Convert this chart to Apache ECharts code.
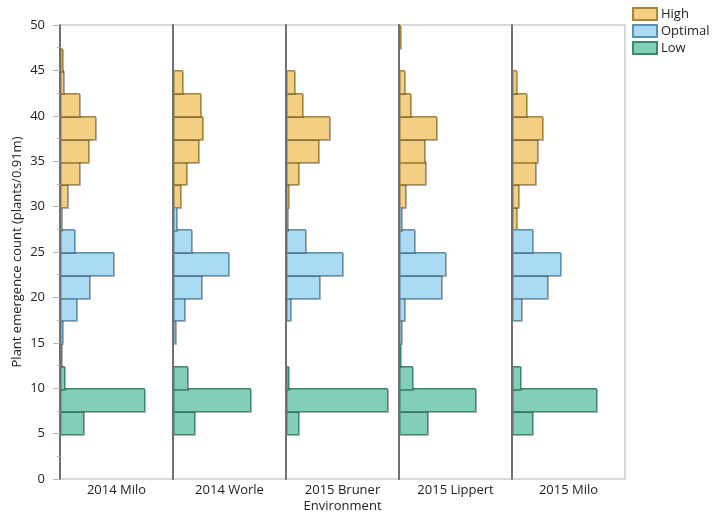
<!DOCTYPE html>
<html>
<head>
<meta charset="utf-8">
<script src="https://cdn.jsdelivr.net/npm/echarts@6/dist/echarts.min.js"></script>
<style>
html,body{margin:0;padding:0;background:#fff;}
#chart{width:713px;height:518px;}
</style>
</head>
<body>
<div id="chart"></div>
<script>
// ---- data ----
const panels = ['2014 Milo', '2014 Worle', '2015 Bruner', '2015 Lippert', '2015 Milo'];
const classes = ['High', 'Optimal', 'Low'];
const binWidth = 2.5;
const lowBins = [5, 7.5, 10, 12.5];
const optimalBins = [15, 17.5, 20, 22.5, 25, 27.5];
const highBins = [27.5, 30, 32.5, 35, 37.5, 40, 42.5, 45, 47.5];

const low2014Milo = [23, 84, 4.3, 0.6];
const low2014Worle = [21.3, 77.3, 14.3, 0];
const low2015Bruner = [12.3, 101.3, 1.7, 0];
const low2015Lippert = [27.7, 75.7, 12.7, 0.8];
const low2015Milo = [19.7, 84, 8.3, 0];

const optimal2014Milo = [2.3, 16, 28.7, 53.3, 13.7, 0.8];
const optimal2014Worle = [2.3, 11.3, 28.3, 55, 17.7, 3.3];
const optimal2015Bruner = [0, 4, 33.3, 56.3, 19, 0.7];
const optimal2015Lippert = [2.3, 5.3, 41.7, 46.3, 14.7, 2];
const optimal2015Milo = [0, 9.3, 35, 47.7, 19.7, 0];

const high2014Milo = [0, 6.7, 19.3, 27.7, 34.7, 19.3, 3.3, 2.3, 0];
const high2014Worle = [0, 7.3, 12.7, 24.7, 29.3, 26.7, 9.3, 0, 0];
const high2015Bruner = [0, 1.7, 12, 32, 42.7, 15.7, 7.7, 0, 0];
const high2015Lippert = [0, 6.3, 26.3, 25, 36.7, 11, 5.3, 0, 0.3];
const high2015Milo = [3.7, 5.7, 23.3, 24.7, 29.7, 13.7, 3.7, 0, 0];

const yTicks = [0, 5, 10, 15, 20, 25, 30, 35, 40, 45, 50];
const xMax = 113;

// ---- chart ----
const lowByPanel = [low2014Milo, low2014Worle, low2015Bruner, low2015Lippert, low2015Milo];
const optByPanel = [optimal2014Milo, optimal2014Worle, optimal2015Bruner, optimal2015Lippert, optimal2015Milo];
const highByPanel = [high2014Milo, high2014Worle, high2015Bruner, high2015Lippert, high2015Milo];

const styles = {
  High: {fill: '#F2CF82', stroke: '#A88838'},
  Optimal: {fill: '#ABDAF3', stroke: '#5A90B2'},
  Low: {fill: '#82CFB9', stroke: '#3C8A6E'}
};
const FONT = 'Open Sans, Noto Sans, sans-serif';
const FS = 13;

const grids = [], xAxes = [], yAxes = [], series = [];
panels.forEach((p, i) => {
  grids.push({left: 60 + i * 113, top: 25, width: 113, height: 454, show: true,
    borderColor: '#b4b4b4', borderWidth: 1, backgroundColor: 'transparent'});
  xAxes.push({gridIndex: i, type: 'value', min: 0, max: xMax,
    axisLine: {show: false}, axisTick: {show: false}, axisLabel: {show: false}, splitLine: {show: false},
    name: p, nameLocation: 'middle', nameGap: 5,
    nameTextStyle: {fontFamily: FONT, fontSize: FS, color: '#222', verticalAlign: 'top'}});
  const first = i === 0;
  yAxes.push({gridIndex: i, type: 'value', min: yTicks[0], max: yTicks[yTicks.length - 1], interval: 5, z: 5,
    axisLine: {show: true, lineStyle: {color: '#707070', width: 2}},
    axisTick: {show: first, length: 7, lineStyle: {color: '#b4b4b4'}},
    minorTick: {show: first, splitNumber: 2, length: 3, lineStyle: {color: '#b4b4b4'}},
    axisLabel: {show: first, margin: 15, fontFamily: FONT, fontSize: FS, color: '#222'},
    splitLine: {show: false},
    name: first ? 'Plant emergence count (plants/0.91m)' : '', nameLocation: 'middle', nameGap: 36,
    nameTextStyle: {fontFamily: FONT, fontSize: FS, color: '#222'}});
  const sets = [['High', highBins, highByPanel[i]], ['Optimal', optimalBins, optByPanel[i]], ['Low', lowBins, lowByPanel[i]]];
  sets.forEach(([name, bins, vals]) => {
    const st = styles[name];
    series.push({
      type: 'custom', name: name, xAxisIndex: i, yAxisIndex: i, z: 2,
      itemStyle: {color: st.fill, borderColor: st.stroke, borderWidth: 1},
      encode: {x: 1, y: 0},
      data: bins.map((b, k) => [b, vals[k]]),
      renderItem: function (params, api) {
        const y0 = api.value(0), len = api.value(1);
        if (!len) return null;
        const a = api.coord([0, y0 + binWidth]);
        const b = api.coord([len, y0]);
        const x = Math.round(a[0]) + 0.5, y = Math.round(a[1]) + 0.5;
        const w = Math.max(Math.round(b[0] - a[0]), 1), h = Math.round(b[1] - a[1]);
        return {type: 'rect', shape: {x: x, y: y, width: w, height: h},
          style: {fill: st.fill, stroke: st.stroke, lineWidth: 1,
            shadowColor: 'rgba(0,0,0,0.22)', shadowOffsetX: 1, shadowOffsetY: 1, shadowBlur: 0}};
      }
    });
  });
});

const chart = echarts.init(document.getElementById('chart'), null, {renderer: 'canvas'});
chart.setOption({
  animation: false,
  backgroundColor: '#fff',
  title: {text: 'Environment', left: 342.5, textAlign: 'center', top: 500, padding: 0,
    textStyle: {fontFamily: FONT, fontSize: FS, fontWeight: 'normal', color: '#222'}},
  legend: {orient: 'vertical', left: 632, top: 7, padding: 0, itemWidth: 24, itemHeight: 12, itemGap: 3,
    icon: 'rect', data: classes, selectedMode: false,
    textStyle: {fontFamily: FONT, fontSize: FS, color: '#222', padding: [0, 0, 0, -1]}},
  grid: grids, xAxis: xAxes, yAxis: yAxes, series: series
});
</script>
</body>
</html>
